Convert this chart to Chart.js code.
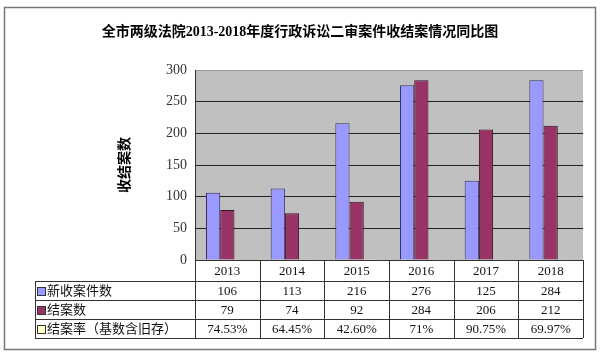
<!DOCTYPE html>
<html>
<head>
<meta charset="utf-8">
<script src="https://cdn.jsdelivr.net/npm/chart.js@4"></script>
<style>
  html, body { margin: 0; padding: 0; background: #fff; }
</style>
</head>
<body>
<canvas id="chart" width="600" height="358"></canvas>
<script>
// data
const years = ['2013', '2014', '2015', '2016', '2017', '2018'];
const newCases = [106, 113, 216, 276, 125, 284];
const closedCases = [79, 74, 92, 284, 206, 212];
const closeRate = [0.7453, 0.6445, 0.4260, 0.71, 0.9075, 0.6997];
const closeRateText = ['74.53%', '64.45%', '42.60%', '71%', '90.75%', '69.97%'];
const yTicks = [0, 50, 100, 150, 200, 250, 300];

const chartTitle = '全市两级法院2013-2018年度行政诉讼二审案件收结案情况同比图';
const seriesNames = ['新收案件数', '结案数', '结案率（基数含旧存）'];
const seriesColors = ['#9999FF', '#993366', '#FFFFCC'];

const FONT = '"Liberation Serif", "Noto Sans CJK SC", serif';

// gray plot background, title, data table under the plot
const tablePlugin = {
  id: 'dataTable',
  beforeDraw(chart) {
    const { ctx, chartArea: a } = chart;
    ctx.save();
    ctx.fillStyle = '#C0C0C0';
    ctx.fillRect(a.left, a.top, a.right - a.left, a.bottom - a.top);
    ctx.restore();
  },
  afterDraw(chart) {
    const { ctx, chartArea: a } = chart;
    const n = years.length;
    const colW = (a.right - a.left) / n;
    const labelLeft = a.left - 160;
    const rows = [a.bottom, a.bottom + 21, a.bottom + 40, a.bottom + 59, a.bottom + 78];
    const px = v => Math.round(v) + 0.5;

    ctx.save();
    // title, centred on the whole frame
    ctx.fillStyle = '#000';
    ctx.font = 'bold 14px ' + FONT;
    ctx.textAlign = 'center';
    ctx.textBaseline = 'middle';
    ctx.fillText(chartTitle, 300, 32);

    ctx.strokeStyle = '#333';
    ctx.lineWidth = 1;
    ctx.beginPath();
    // axis line / top of table
    ctx.moveTo(a.left, px(rows[0])); ctx.lineTo(a.right, px(rows[0]));
    for (let r = 1; r < rows.length; r++) {
      ctx.moveTo(labelLeft, px(rows[r])); ctx.lineTo(a.right, px(rows[r]));
    }
    for (let i = 0; i <= n; i++) {
      const x = px(a.left + i * colW);
      ctx.moveTo(x, rows[0]); ctx.lineTo(x, rows[4]);
    }
    ctx.moveTo(px(labelLeft), rows[1]); ctx.lineTo(px(labelLeft), rows[4]);
    ctx.stroke();

    ctx.fillStyle = '#111';
    ctx.font = '13px ' + FONT;
    const cells = [years, newCases, closedCases, closeRateText];
    cells.forEach((row, r) => {
      const cy = (rows[r] + rows[r + 1]) / 2 + 1;
      row.forEach((v, i) => {
        ctx.fillText(String(v), a.left + (i + 0.5) * colW, cy);
      });
    });

    // legend keys + row names
    ctx.textAlign = 'left';
    seriesNames.forEach((name, r) => {
      const cy = (rows[r + 1] + rows[r + 2]) / 2;
      ctx.fillStyle = seriesColors[r];
      ctx.fillRect(labelLeft + 2.5, Math.round(cy - 4) + 0.5, 8, 8);
      ctx.strokeStyle = '#333';
      ctx.strokeRect(labelLeft + 2.5, Math.round(cy - 4) + 0.5, 8, 8);
      ctx.fillStyle = '#111';
      ctx.fillText(name, labelLeft + 12, cy + 1);
    });

    // outer frame
    ctx.strokeStyle = '#777';
    ctx.lineWidth = 1.5;
    ctx.strokeRect(4.5, 7.5, 591, 342);
    ctx.restore();
  }
};

const ctx = document.getElementById('chart').getContext('2d');
const chart = new Chart(ctx, {
  type: 'bar',
  data: {
    labels: years,
    datasets: [
      { label: seriesNames[0], data: newCases, backgroundColor: seriesColors[0], borderColor: '#333366', borderWidth: 1 },
      { label: seriesNames[1], data: closedCases, backgroundColor: seriesColors[1], borderColor: '#331122', borderWidth: 1 },
      { label: seriesNames[2], data: closeRate, backgroundColor: seriesColors[2], borderWidth: 0 }
    ]
  },
  plugins: [tablePlugin],
  options: {
    responsive: false,
    devicePixelRatio: 1,
    animation: false,
    datasets: { bar: { categoryPercentage: 0.66, barPercentage: 1 } },
    layout: { padding: { left: 117, right: 17, bottom: 98, top: 70 } },
    plugins: {
      legend: { display: false },
      tooltip: { enabled: false },
      title: { display: false }
    },
    scales: {
      x: { display: false },
      y: {
        min: 0, max: 300,
        afterBuildTicks: s => { s.ticks = yTicks.map(v => ({ value: v })); },
        afterFit: s => { s.width = 78; },
        ticks: { color: '#333', font: { family: FONT, size: 14 }, padding: 8 },
        grid: { color: c => c.tick && c.tick.value === 300 ? '#999' : '#222', drawTicks: false },
        border: { color: '#333', width: 1 },
        title: {
          display: true,
          text: '收结案数',
          color: '#000',
          font: { family: FONT, size: 14, weight: 'bold' },
          padding: 0
        }
      }
    }
  }
});
</script>
</body>
</html>
